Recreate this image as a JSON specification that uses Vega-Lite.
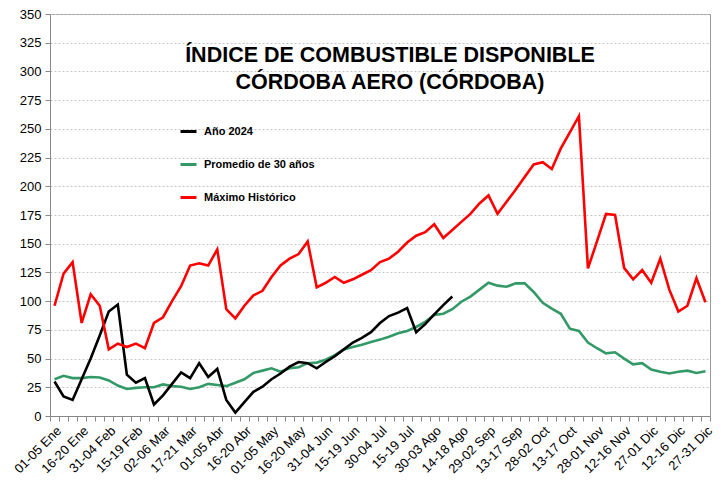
{
  "$schema": "https://vega.github.io/schema/vega-lite/v6.json",
  "width": 660,
  "height": 402,
  "autosize": {"type": "none"},
  "padding": {"left": 50, "top": 14, "right": 15, "bottom": 65},
  "background": "white",
  "config": {"view": {"stroke": "#9a9a9a"}, "font": "Liberation Sans"},
  "title": {
    "text": ["ÍNDICE DE COMBUSTIBLE DISPONIBLE", "CÓRDOBA AERO (CÓRDOBA)"],
    "font": "Liberation Sans",
    "fontSize": 21.5,
    "fontWeight": "bold",
    "color": "#000000",
    "anchor": "middle",
    "lineHeight": 27,
    "dx": 10,
    "dy": 89
  },
  "data": {"values": [
    {"p":"01-05 Ene","s":"Promedio de 30 años","v":32},
    {"p":"06-10 Ene","s":"Promedio de 30 años","v":35},
    {"p":"11-15 Ene","s":"Promedio de 30 años","v":33},
    {"p":"16-20 Ene","s":"Promedio de 30 años","v":33},
    {"p":"21-25 Ene","s":"Promedio de 30 años","v":34},
    {"p":"26-30 Ene","s":"Promedio de 30 años","v":33.5},
    {"p":"31-04 Feb","s":"Promedio de 30 años","v":31},
    {"p":"05-09 Feb","s":"Promedio de 30 años","v":26.5},
    {"p":"10-14 Feb","s":"Promedio de 30 años","v":23.5},
    {"p":"15-19 Feb","s":"Promedio de 30 años","v":24.5},
    {"p":"20-24 Feb","s":"Promedio de 30 años","v":25},
    {"p":"25-01 Mar","s":"Promedio de 30 años","v":25},
    {"p":"02-06 Mar","s":"Promedio de 30 años","v":27.5},
    {"p":"07-11 Mar","s":"Promedio de 30 años","v":26},
    {"p":"12-16 Mar","s":"Promedio de 30 años","v":25.5},
    {"p":"17-21 Mar","s":"Promedio de 30 años","v":23.5},
    {"p":"22-26 Mar","s":"Promedio de 30 años","v":25},
    {"p":"27-31 Mar","s":"Promedio de 30 años","v":28},
    {"p":"01-05 Abr","s":"Promedio de 30 años","v":27},
    {"p":"06-10 Abr","s":"Promedio de 30 años","v":26},
    {"p":"11-15 Abr","s":"Promedio de 30 años","v":29},
    {"p":"16-20 Abr","s":"Promedio de 30 años","v":32},
    {"p":"21-25 Abr","s":"Promedio de 30 años","v":37.5},
    {"p":"26-30 Abr","s":"Promedio de 30 años","v":39.5},
    {"p":"01-05 May","s":"Promedio de 30 años","v":41.5},
    {"p":"06-10 May","s":"Promedio de 30 años","v":38.5},
    {"p":"11-15 May","s":"Promedio de 30 años","v":41.5},
    {"p":"16-20 May","s":"Promedio de 30 años","v":42.5},
    {"p":"21-25 May","s":"Promedio de 30 años","v":46},
    {"p":"26-30 May","s":"Promedio de 30 años","v":46.5},
    {"p":"31-04 Jun","s":"Promedio de 30 años","v":49},
    {"p":"05-09 Jun","s":"Promedio de 30 años","v":53},
    {"p":"10-14 Jun","s":"Promedio de 30 años","v":58},
    {"p":"15-19 Jun","s":"Promedio de 30 años","v":60},
    {"p":"20-24 Jun","s":"Promedio de 30 años","v":62},
    {"p":"25-29 Jun","s":"Promedio de 30 años","v":64.5},
    {"p":"30-04 Jul","s":"Promedio de 30 años","v":66.5},
    {"p":"05-09 Jul","s":"Promedio de 30 años","v":69},
    {"p":"10-14 Jul","s":"Promedio de 30 años","v":72},
    {"p":"15-19 Jul","s":"Promedio de 30 años","v":74},
    {"p":"20-24 Jul","s":"Promedio de 30 años","v":77.5},
    {"p":"25-29 Jul","s":"Promedio de 30 años","v":82},
    {"p":"30-03 Ago","s":"Promedio de 30 años","v":88},
    {"p":"04-08 Ago","s":"Promedio de 30 años","v":89},
    {"p":"09-13 Ago","s":"Promedio de 30 años","v":93},
    {"p":"14-18 Ago","s":"Promedio de 30 años","v":99.5},
    {"p":"19-23 Ago","s":"Promedio de 30 años","v":104},
    {"p":"24-28 Ago","s":"Promedio de 30 años","v":110},
    {"p":"29-02 Sep","s":"Promedio de 30 años","v":116},
    {"p":"03-07 Sep","s":"Promedio de 30 años","v":113.5},
    {"p":"08-12 Sep","s":"Promedio de 30 años","v":112.5},
    {"p":"13-17 Sep","s":"Promedio de 30 años","v":115.5},
    {"p":"18-22 Sep","s":"Promedio de 30 años","v":115.5},
    {"p":"23-27 Sep","s":"Promedio de 30 años","v":108},
    {"p":"28-02 Oct","s":"Promedio de 30 años","v":98.5},
    {"p":"03-07 Oct","s":"Promedio de 30 años","v":93.5},
    {"p":"08-12 Oct","s":"Promedio de 30 años","v":89},
    {"p":"13-17 Oct","s":"Promedio de 30 años","v":76},
    {"p":"18-22 Oct","s":"Promedio de 30 años","v":74},
    {"p":"23-27 Oct","s":"Promedio de 30 años","v":64},
    {"p":"28-01 Nov","s":"Promedio de 30 años","v":59},
    {"p":"02-06 Nov","s":"Promedio de 30 años","v":54.5},
    {"p":"07-11 Nov","s":"Promedio de 30 años","v":55.5},
    {"p":"12-16 Nov","s":"Promedio de 30 años","v":50},
    {"p":"17-21 Nov","s":"Promedio de 30 años","v":45},
    {"p":"22-26 Nov","s":"Promedio de 30 años","v":46},
    {"p":"27-01 Dic","s":"Promedio de 30 años","v":40.5},
    {"p":"02-06 Dic","s":"Promedio de 30 años","v":38.5},
    {"p":"07-11 Dic","s":"Promedio de 30 años","v":37},
    {"p":"12-16 Dic","s":"Promedio de 30 años","v":38.5},
    {"p":"17-21 Dic","s":"Promedio de 30 años","v":39.5},
    {"p":"22-26 Dic","s":"Promedio de 30 años","v":37.5},
    {"p":"27-31 Dic","s":"Promedio de 30 años","v":39},

    {"p":"01-05 Ene","s":"Año 2024","v":30},
    {"p":"06-10 Ene","s":"Año 2024","v":17},
    {"p":"11-15 Ene","s":"Año 2024","v":14},
    {"p":"16-20 Ene","s":"Año 2024","v":32},
    {"p":"21-25 Ene","s":"Año 2024","v":50},
    {"p":"26-30 Ene","s":"Año 2024","v":70},
    {"p":"31-04 Feb","s":"Año 2024","v":91},
    {"p":"05-09 Feb","s":"Año 2024","v":97},
    {"p":"10-14 Feb","s":"Año 2024","v":36},
    {"p":"15-19 Feb","s":"Año 2024","v":29},
    {"p":"20-24 Feb","s":"Año 2024","v":33},
    {"p":"25-01 Mar","s":"Año 2024","v":10},
    {"p":"02-06 Mar","s":"Año 2024","v":18},
    {"p":"07-11 Mar","s":"Año 2024","v":28},
    {"p":"12-16 Mar","s":"Año 2024","v":38},
    {"p":"17-21 Mar","s":"Año 2024","v":33},
    {"p":"22-26 Mar","s":"Año 2024","v":46},
    {"p":"27-31 Mar","s":"Año 2024","v":34},
    {"p":"01-05 Abr","s":"Año 2024","v":41},
    {"p":"06-10 Abr","s":"Año 2024","v":14},
    {"p":"11-15 Abr","s":"Año 2024","v":3},
    {"p":"16-20 Abr","s":"Año 2024","v":12},
    {"p":"21-25 Abr","s":"Año 2024","v":21},
    {"p":"26-30 Abr","s":"Año 2024","v":25.5},
    {"p":"01-05 May","s":"Año 2024","v":32},
    {"p":"06-10 May","s":"Año 2024","v":37},
    {"p":"11-15 May","s":"Año 2024","v":43},
    {"p":"16-20 May","s":"Año 2024","v":47},
    {"p":"21-25 May","s":"Año 2024","v":46},
    {"p":"26-30 May","s":"Año 2024","v":41.5},
    {"p":"31-04 Jun","s":"Año 2024","v":47},
    {"p":"05-09 Jun","s":"Año 2024","v":52},
    {"p":"10-14 Jun","s":"Año 2024","v":58},
    {"p":"15-19 Jun","s":"Año 2024","v":64},
    {"p":"20-24 Jun","s":"Año 2024","v":68},
    {"p":"25-29 Jun","s":"Año 2024","v":73},
    {"p":"30-04 Jul","s":"Año 2024","v":81},
    {"p":"05-09 Jul","s":"Año 2024","v":87},
    {"p":"10-14 Jul","s":"Año 2024","v":90},
    {"p":"15-19 Jul","s":"Año 2024","v":94},
    {"p":"20-24 Jul","s":"Año 2024","v":73},
    {"p":"25-29 Jul","s":"Año 2024","v":80},
    {"p":"30-03 Ago","s":"Año 2024","v":88.5},
    {"p":"04-08 Ago","s":"Año 2024","v":96.5},
    {"p":"09-13 Ago","s":"Año 2024","v":104},

    {"p":"01-05 Ene","s":"Máximo Histórico","v":96},
    {"p":"06-10 Ene","s":"Máximo Histórico","v":124},
    {"p":"11-15 Ene","s":"Máximo Histórico","v":134},
    {"p":"16-20 Ene","s":"Máximo Histórico","v":81},
    {"p":"21-25 Ene","s":"Máximo Histórico","v":106},
    {"p":"26-30 Ene","s":"Máximo Histórico","v":96},
    {"p":"31-04 Feb","s":"Máximo Histórico","v":58},
    {"p":"05-09 Feb","s":"Máximo Histórico","v":63},
    {"p":"10-14 Feb","s":"Máximo Histórico","v":60},
    {"p":"15-19 Feb","s":"Máximo Histórico","v":63},
    {"p":"20-24 Feb","s":"Máximo Histórico","v":59},
    {"p":"25-01 Mar","s":"Máximo Histórico","v":81},
    {"p":"02-06 Mar","s":"Máximo Histórico","v":86},
    {"p":"07-11 Mar","s":"Máximo Histórico","v":100},
    {"p":"12-16 Mar","s":"Máximo Histórico","v":113},
    {"p":"17-21 Mar","s":"Máximo Histórico","v":131},
    {"p":"22-26 Mar","s":"Máximo Histórico","v":133},
    {"p":"27-31 Mar","s":"Máximo Histórico","v":131},
    {"p":"01-05 Abr","s":"Máximo Histórico","v":145},
    {"p":"06-10 Abr","s":"Máximo Histórico","v":93},
    {"p":"11-15 Abr","s":"Máximo Histórico","v":85},
    {"p":"16-20 Abr","s":"Máximo Histórico","v":96},
    {"p":"21-25 Abr","s":"Máximo Histórico","v":105},
    {"p":"26-30 Abr","s":"Máximo Histórico","v":109},
    {"p":"01-05 May","s":"Máximo Histórico","v":121},
    {"p":"06-10 May","s":"Máximo Histórico","v":131},
    {"p":"11-15 May","s":"Máximo Histórico","v":137},
    {"p":"16-20 May","s":"Máximo Histórico","v":141},
    {"p":"21-25 May","s":"Máximo Histórico","v":152},
    {"p":"26-30 May","s":"Máximo Histórico","v":112},
    {"p":"31-04 Jun","s":"Máximo Histórico","v":116},
    {"p":"05-09 Jun","s":"Máximo Histórico","v":121},
    {"p":"10-14 Jun","s":"Máximo Histórico","v":116},
    {"p":"15-19 Jun","s":"Máximo Histórico","v":119},
    {"p":"20-24 Jun","s":"Máximo Histórico","v":123},
    {"p":"25-29 Jun","s":"Máximo Histórico","v":127},
    {"p":"30-04 Jul","s":"Máximo Histórico","v":134},
    {"p":"05-09 Jul","s":"Máximo Histórico","v":137},
    {"p":"10-14 Jul","s":"Máximo Histórico","v":143},
    {"p":"15-19 Jul","s":"Máximo Histórico","v":151},
    {"p":"20-24 Jul","s":"Máximo Histórico","v":157},
    {"p":"25-29 Jul","s":"Máximo Histórico","v":160},
    {"p":"30-03 Ago","s":"Máximo Histórico","v":167},
    {"p":"04-08 Ago","s":"Máximo Histórico","v":155},
    {"p":"09-13 Ago","s":"Máximo Histórico","v":162},
    {"p":"14-18 Ago","s":"Máximo Histórico","v":169},
    {"p":"19-23 Ago","s":"Máximo Histórico","v":176},
    {"p":"24-28 Ago","s":"Máximo Histórico","v":185},
    {"p":"29-02 Sep","s":"Máximo Histórico","v":192},
    {"p":"03-07 Sep","s":"Máximo Histórico","v":176},
    {"p":"08-12 Sep","s":"Máximo Histórico","v":186.5},
    {"p":"13-17 Sep","s":"Máximo Histórico","v":197},
    {"p":"18-22 Sep","s":"Máximo Histórico","v":208},
    {"p":"23-27 Sep","s":"Máximo Histórico","v":219},
    {"p":"28-02 Oct","s":"Máximo Histórico","v":221},
    {"p":"03-07 Oct","s":"Máximo Histórico","v":215},
    {"p":"08-12 Oct","s":"Máximo Histórico","v":233},
    {"p":"13-17 Oct","s":"Máximo Histórico","v":247},
    {"p":"18-22 Oct","s":"Máximo Histórico","v":261},
    {"p":"23-27 Oct","s":"Máximo Histórico","v":128.5},
    {"p":"28-01 Nov","s":"Máximo Histórico","v":152},
    {"p":"02-06 Nov","s":"Máximo Histórico","v":176},
    {"p":"07-11 Nov","s":"Máximo Histórico","v":175},
    {"p":"12-16 Nov","s":"Máximo Histórico","v":129},
    {"p":"17-21 Nov","s":"Máximo Histórico","v":119},
    {"p":"22-26 Nov","s":"Máximo Histórico","v":127},
    {"p":"27-01 Dic","s":"Máximo Histórico","v":116},
    {"p":"02-06 Dic","s":"Máximo Histórico","v":137},
    {"p":"07-11 Dic","s":"Máximo Histórico","v":110},
    {"p":"12-16 Dic","s":"Máximo Histórico","v":91},
    {"p":"17-21 Dic","s":"Máximo Histórico","v":96},
    {"p":"22-26 Dic","s":"Máximo Histórico","v":120},
    {"p":"27-31 Dic","s":"Máximo Histórico","v":99}
  ]},
  "mark": {"type": "line", "strokeWidth": 2.6, "strokeJoin": "miter"},
  "encoding": {
    "x": {
      "field": "p",
      "type": "ordinal",
      "sort": null,
      "scale": {"type": "band", "paddingInner": 0, "paddingOuter": 0},
      "axis": {
        "title": null,
        "labelAngle": -45,
        "labelOverlap": false,
        "labelExpr": "round(datum.index * 72) % 3 == 0 ? datum.label : ''",
        "tickBand": "extent",
        "labelFontSize": 13,
        "labelColor": "#000000",
        "labelPadding": 3,
        "domainColor": "#888888",
        "tickColor": "#888888",
        "tickSize": 5,
        "grid": false
      }
    },
    "y": {
      "field": "v",
      "type": "quantitative",
      "scale": {"domain": [0, 350], "nice": false},
      "axis": {
        "title": null,
        "values": [0, 25, 50, 75, 100, 125, 150, 175, 200, 225, 250, 275, 300, 325, 350],
        "labelFontSize": 13,
        "labelColor": "#000000",
        "labelPadding": 4,
        "domainColor": "#888888",
        "tickColor": "#888888",
        "tickSize": 5,
        "gridColor": "#c4c4c4",
        "gridDash": [2, 2]
      }
    },
    "color": {
      "field": "s",
      "type": "nominal",
      "scale": {
        "domain": ["Año 2024", "Promedio de 30 años", "Máximo Histórico"],
        "range": ["#000000", "#339966", "#ff0000"]
      },
      "legend": {
        "orient": "none",
        "legendX": 129,
        "legendY": 108,
        "title": null,
        "symbolType": "stroke",
        "symbolSize": 256,
        "symbolStrokeWidth": 3,
        "labelFontSize": 11,
        "labelFontWeight": "bold",
        "labelColor": "#000000",
        "labelOffset": 6,
        "rowPadding": 17
      }
    }
  }
}
